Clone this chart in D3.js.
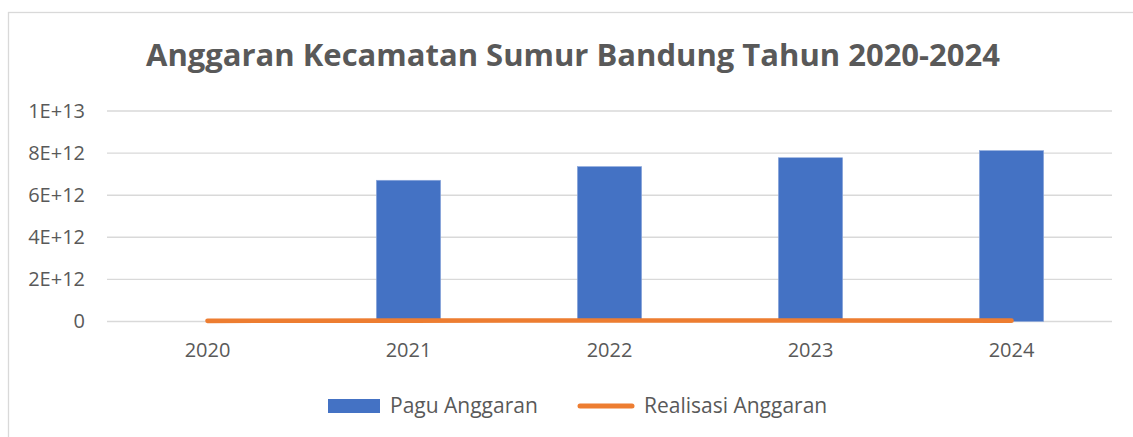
<!DOCTYPE html>
<html>
<head>
<meta charset="utf-8">
<script src="https://cdn.jsdelivr.net/npm/d3@7"></script>
<style>
  body { margin: 0; background: #fff; }
  text { font-family: "Open Sans", sans-serif; fill: #595959; }
</style>
</head>
<body>
<div id="chart"></div>
<script>
var years = ['2020', '2021', '2022', '2023', '2024'];
var paguAnggaran = [0, 6.71e12, 7.36e12, 7.78e12, 8.12e12];
var realisasiAnggaran = [3e10, 4e10, 5e10, 5e10, 4e10];
var yTicks = [0, 2e12, 4e12, 6e12, 8e12, 1e13];
var yTickLabels = ['0', '2E+12', '4E+12', '6E+12', '8E+12', '1E+13'];
var legendNames = ['Pagu Anggaran', 'Realisasi Anggaran'];

var svgWidth = 1133;
var svgHeight = 437;
var plotLeft = 107;
var plotRight = 1112;
var plotTop = 111;
var plotBottom = 321.5;

var blue = '#4472c4';
var orange = '#ed7d31';

var svg = d3.select('#chart')
            .append('svg')
            .attr('width', svgWidth)
            .attr('height', svgHeight);

// chart area border (right and bottom edges run off the picture)
svg.append('rect')
   .attr('x', 8.5)
   .attr('y', 12.5)
   .attr('width', 1140)
   .attr('height', 440)
   .attr('fill', '#fff')
   .attr('stroke', '#d9d9d9')
   .attr('stroke-width', 1.3);

svg.append('text')
   .attr('x', 573)
   .attr('y', 66)
   .attr('text-anchor', 'middle')
   .style('font-size', '31px')
   .style('font-weight', 'bold')
   .text('Anggaran Kecamatan Sumur Bandung Tahun 2020-2024');

var x = d3.scaleBand()
          .domain(years)
          .range([plotLeft, plotRight])
          .padding(0);

var y = d3.scaleLinear()
          .domain([0, 1e13])
          .range([plotBottom, plotTop]);

// gridlines
svg.append('g')
   .selectAll('line')
   .data(yTicks)
   .enter()
   .append('line')
   .attr('x1', plotLeft)
   .attr('x2', plotRight)
   .attr('y1', function(d) { return y(d); })
   .attr('y2', function(d) { return y(d); })
   .attr('stroke', '#d9d9d9')
   .attr('stroke-width', 1.4);

// y axis labels
var yAxis = d3.axisLeft(y)
              .tickValues(yTicks)
              .tickFormat(function(d, i) { return yTickLabels[i]; })
              .tickSize(0)
              .tickPadding(0);

svg.append('g')
   .attr('transform', 'translate(85,0)')
   .call(yAxis)
   .call(function(g) { g.select('.domain').remove(); })
   .selectAll('text')
   .style('font-family', '"Open Sans", sans-serif')
   .style('font-size', '20px')
   .attr('fill', '#595959');

// x axis labels
var xAxis = d3.axisBottom(x).tickSize(0).tickPadding(0);

svg.append('g')
   .attr('transform', 'translate(0,' + 343 + ')')
   .call(xAxis)
   .call(function(g) { g.select('.domain').remove(); })
   .selectAll('text')
   .style('font-family', '"Open Sans", sans-serif')
   .style('font-size', '20px')
   .attr('fill', '#595959');

// bars
var barWidth = x.bandwidth() * 0.32;

svg.append('g')
   .selectAll('rect')
   .data(paguAnggaran)
   .enter()
   .append('rect')
   .attr('x', function(d, i) { return x(years[i]) + x.bandwidth() / 2 - barWidth / 2; })
   .attr('y', function(d) { return y(d); })
   .attr('width', barWidth)
   .attr('height', function(d) { return y(0) - y(d); })
   .attr('fill', blue)
   .attr('stroke', function(d) { return d > 0 ? '#8faadc' : 'none'; })
   .attr('stroke-width', 0.6);

// line
var line = d3.line()
             .x(function(d, i) { return x(years[i]) + x.bandwidth() / 2; })
             .y(function(d) { return y(d); });

svg.append('path')
   .datum(realisasiAnggaran)
   .attr('d', line)
   .attr('fill', 'none')
   .attr('stroke', orange)
   .attr('stroke-width', 4.6)
   .attr('stroke-linecap', 'round')
   .attr('stroke-linejoin', 'round');

// legend
var legend = svg.append('g');

legend.append('rect')
      .attr('x', 328)
      .attr('y', 399)
      .attr('width', 52)
      .attr('height', 14)
      .attr('fill', blue);

legend.append('text')
      .attr('x', 390)
      .attr('y', 413)
      .style('font-size', '21px')
      .text(legendNames[0]);

legend.append('line')
      .attr('x1', 580)
      .attr('x2', 632)
      .attr('y1', 406)
      .attr('y2', 406)
      .attr('stroke', orange)
      .attr('stroke-width', 5)
      .attr('stroke-linecap', 'round');

legend.append('text')
      .attr('x', 644)
      .attr('y', 413)
      .style('font-size', '21px')
      .text(legendNames[1]);
</script>
</body>
</html>
